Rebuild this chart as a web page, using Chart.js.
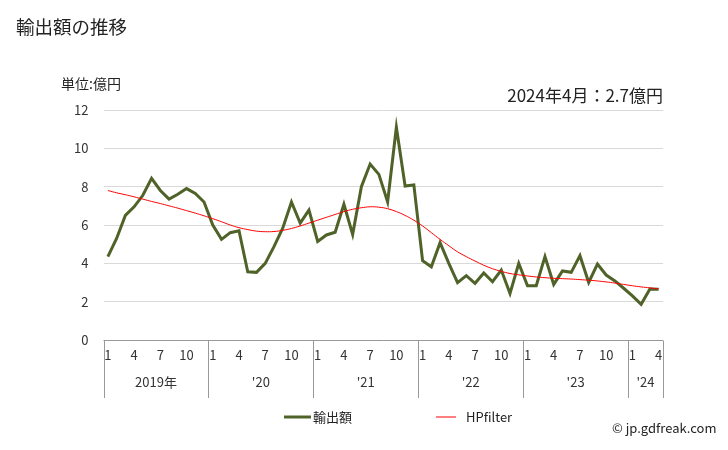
<!DOCTYPE html>
<html>
<head>
<meta charset="utf-8">
<script src="https://cdn.jsdelivr.net/npm/chart.js@4"></script>
<style>
html,body{margin:0;padding:0;background:#fff;}
#wrap{position:relative;width:728px;height:450px;}
</style>
</head>
<body>
<div id="wrap"><canvas id="c" width="728" height="450"></canvas></div>
<script>
const years = ['2019年', "'20", "'21", "'22", "'23", "'24"];
const months = [];
for (let y = 0; y < 6; y++) {
  const n = y === 5 ? 4 : 12;
  for (let m = 1; m <= n; m++) months.push(years[y] + '-' + m);
}
const monthTicks = [1, 4, 7, 10];
const exportValues = [
  4.35, 5.3, 6.5, 6.95, 7.55, 8.43, 7.8, 7.35, 7.6, 7.9, 7.65, 7.2,
  6.0, 5.25, 5.6, 5.7, 3.56, 3.53, 4.0, 4.87, 5.83, 7.2, 6.1, 6.78,
  5.14, 5.48, 5.62, 7.08, 5.51, 8.0, 9.18, 8.64, 7.2, 11.1, 8.03, 8.09,
  4.14, 3.82, 5.08, 4.0, 2.99, 3.36, 2.96, 3.5, 3.04, 3.65, 2.43, 4.0,
  2.83, 2.83, 4.35, 2.9, 3.6, 3.53, 4.4, 3.0, 3.96, 3.39, 3.08, 2.7,
  2.3, 1.86, 2.66, 2.65
];
const hpValues = [
  7.8, 7.68, 7.58, 7.47, 7.35, 7.23, 7.12, 7.0, 6.88, 6.75, 6.62, 6.48,
  6.33, 6.17, 6.0, 5.86, 5.76, 5.68, 5.65, 5.66, 5.72, 5.82, 5.95, 6.1,
  6.25, 6.4, 6.55, 6.7, 6.82, 6.9, 6.95, 6.93, 6.85, 6.7, 6.5, 6.25,
  5.95, 5.6, 5.25, 4.92, 4.6, 4.35, 4.12, 3.9, 3.72, 3.58, 3.47, 3.4,
  3.34, 3.29, 3.25, 3.22, 3.2, 3.18, 3.15, 3.12, 3.08, 3.03, 2.97, 2.9,
  2.83, 2.77, 2.72, 2.67
];
const yTicks = [0, 2, 4, 6, 8, 10, 12];
const seriesNames = ['輸出額', 'HPfilter'];

const FONT = '"Noto Sans CJK JP", "Noto Sans", sans-serif';

const decor = {
  id: 'decor',
  afterDraw(chart) {
    const ctx = chart.ctx;
    const xs = chart.scales.x;
    const area = chart.chartArea;
    ctx.save();
    // titles
    ctx.fillStyle = '#222';
    ctx.textBaseline = 'middle';
    ctx.textAlign = 'left';
    ctx.font = '18.5px ' + FONT;
    ctx.fillText('輸出額の推移', 16, 27);
    ctx.font = '14px ' + FONT;
    ctx.fillText('単位:億円', 61, 84);
    ctx.textAlign = 'right';
    ctx.font = '17px ' + FONT;
    ctx.fillText('2024年4月：2.7億円', 663, 96);

    // bottom axis line
    const bottom = Math.round(area.bottom) + 0.5;
    ctx.strokeStyle = '#999';
    ctx.lineWidth = 1;
    ctx.beginPath();
    ctx.moveTo(area.left, bottom);
    ctx.lineTo(area.right, bottom);
    ctx.stroke();

    // month ticks and year separators
    const half = (xs.getPixelForValue(1) - xs.getPixelForValue(0)) / 2;
    ctx.font = '13px ' + FONT;
    ctx.fillStyle = '#333';
    ctx.textAlign = 'center';
    let idx = 0;
    const seps = [];
    const yearCenters = [];
    for (let y = 0; y < years.length; y++) {
      const n = y === years.length - 1 ? 4 : 12;
      const start = xs.getPixelForValue(idx) - half;
      const end = xs.getPixelForValue(idx + n - 1) + half;
      seps.push(start);
      if (y === years.length - 1) seps.push(end);
      yearCenters.push((start + end) / 2);
      for (let m = 1; m <= n; m++) {
        if (monthTicks.includes(m)) {
          ctx.fillText(String(m), xs.getPixelForValue(idx + m - 1), 355);
        }
      }
      idx += n;
    }
    years.forEach((t, i) => ctx.fillText(t, yearCenters[i], 382));
    ctx.strokeStyle = '#999';
    ctx.beginPath();
    seps.forEach(x => {
      const px = Math.round(x) + 0.5;
      ctx.moveTo(px, bottom);
      ctx.lineTo(px, 398);
    });
    ctx.stroke();

    // legend
    const ly = 417;
    ctx.lineWidth = 3;
    ctx.strokeStyle = chart.data.datasets[0].borderColor;
    ctx.beginPath(); ctx.moveTo(284, ly); ctx.lineTo(311, ly); ctx.stroke();
    ctx.lineWidth = 1;
    ctx.strokeStyle = chart.data.datasets[1].borderColor;
    ctx.beginPath(); ctx.moveTo(436, ly); ctx.lineTo(456, ly); ctx.stroke();
    ctx.textAlign = 'left';
    ctx.fillStyle = '#222';
    ctx.font = '13px ' + FONT;
    ctx.fillText(seriesNames[0], 313, ly);
    ctx.fillText(seriesNames[1], 466, ly);
    ctx.font = '13px ' + FONT;
    ctx.fillText('© jp.gdfreak.com', 612, 428);
    ctx.restore();
  }
};

new Chart(document.getElementById('c'), {
  type: 'line',
  data: {
    labels: months,
    datasets: [
      { label: seriesNames[0], data: exportValues, borderColor: '#4f6228', backgroundColor: '#4f6228',
        borderWidth: 3, pointRadius: 0, tension: 0, order: 1 },
      { label: seriesNames[1], data: hpValues, borderColor: '#ff0000', backgroundColor: '#ff0000',
        borderWidth: 1, pointRadius: 0, tension: 0.4, order: 0 }
    ]
  },
  options: {
    responsive: false,
    animation: false,
    events: [],
    layout: { padding: { left: 0, right: 65, top: 110, bottom: 110 } },
    plugins: { legend: { display: false }, title: { display: false }, tooltip: { enabled: false } },
    scales: {
      x: { type: 'category', display: false, offset: true },
      y: {
        min: 0, max: 12,
        afterFit(s) { s.width = 103.5; },
        afterBuildTicks(s) { s.ticks = yTicks.map(v => ({ value: v })); },
        grid: { color: '#d9d9d9', lineWidth: 1, drawTicks: false },
        border: { display: false },
        ticks: { padding: 15, color: '#333', font: { family: FONT, size: 13 } }
      }
    }
  },
  plugins: [decor]
});
</script>
</body>
</html>
